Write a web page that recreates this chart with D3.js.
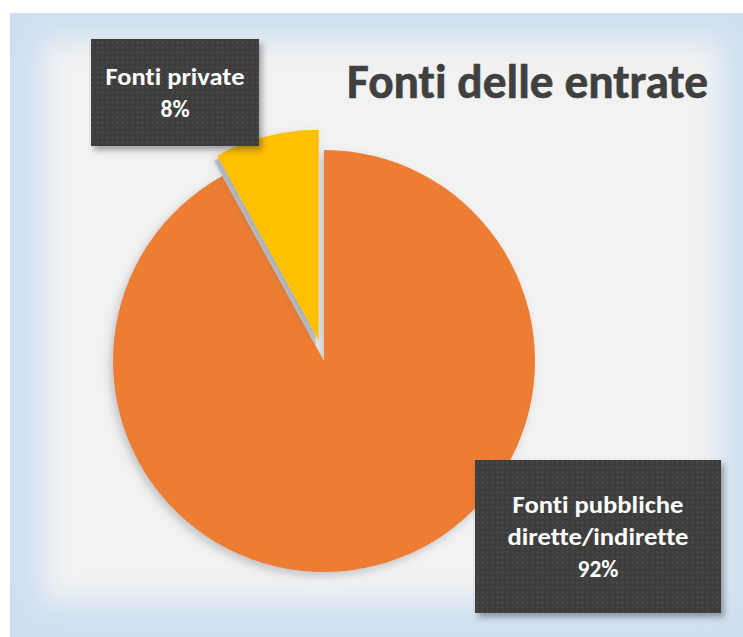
<!DOCTYPE html>
<html><head><meta charset="utf-8">
<script src="https://cdn.jsdelivr.net/npm/d3@7/dist/d3.min.js"></script>
<style>html,body{margin:0;padding:0;background:#fff;overflow:hidden} text{font-variant-ligatures:none;font-feature-settings:"liga" 0,"clig" 0;}</style>
</head><body>
<svg id="chart" width="743" height="637"></svg>
<script>
const categories = ["Fonti pubbliche dirette/indirette", "Fonti private"];
const values = [92, 8];
const labelLines = [["Fonti pubbliche", "dirette/indirette", "92%"], ["Fonti private", "8%"]];
const colors = ["#ED7D31", "#FFC000"];
const title = "Fonti delle entrate";

const svg = d3.select("#chart");
const defs = svg.append("defs");

// background glow
const bgBlur = defs.append("filter").attr("id","bgblur").attr("x","-20%").attr("y","-20%").attr("width","140%").attr("height","140%");
bgBlur.append("feGaussianBlur").attr("stdDeviation", 14);
const clip = defs.append("clipPath").attr("id","bgclip");
clip.append("rect").attr("x",10).attr("y",13).attr("width",760).attr("height",640);
const bg = svg.append("g").attr("clip-path","url(#bgclip)");
bg.append("rect").attr("x",10).attr("y",13).attr("width",760).attr("height",640).attr("fill","#cddff1");
bg.append("rect").attr("x",42).attr("y",40).attr("width",680).attr("height",562).attr("fill","#f2f2f2").attr("filter","url(#bgblur)");

// pattern for label boxes
const pat = defs.append("pattern").attr("id","dots").attr("patternUnits","userSpaceOnUse").attr("width",5).attr("height",5);
pat.append("rect").attr("width",5).attr("height",5).attr("fill","#3d3d3d");
pat.append("rect").attr("x",1.5).attr("y",1.5).attr("width",2).attr("height",2).attr("fill","#4d4d4d");

const shadow = defs.append("filter").attr("id","boxshadow").attr("x","-10%").attr("y","-10%").attr("width","130%").attr("height","130%");
shadow.append("feDropShadow").attr("dx",3).attr("dy",4).attr("stdDeviation",3).attr("flood-color","#000").attr("flood-opacity",0.35);

const pieShadow = defs.append("filter").attr("id","pieshadow").attr("x","-20%").attr("y","-20%").attr("width","140%").attr("height","140%");
pieShadow.append("feDropShadow").attr("dx",-3).attr("dy",4).attr("stdDeviation",4).attr("flood-color","#6a737c").attr("flood-opacity",0.35);

// pie
const cx = 324, cy = 361, R = 211, explode = 21;
const pie = d3.pie().sort(null).value(d => d)(values);
const arc = d3.arc().innerRadius(0).outerRadius(R);
const g = svg.append("g").attr("transform", `translate(${cx},${cy})`);

function offset(d, i) {
  if (i !== 1) return [0,0];
  const a = (d.startAngle + d.endAngle) / 2;
  return [Math.sin(a) * explode, -Math.cos(a) * explode];
}
// gray strip shadow for exploded slice
g.selectAll("path.sh").data(pie.filter((d,i)=>i===1)).join("path")
  .attr("class","sh")
  .attr("d", arc)
  .attr("fill", "#c6ccd1")
  .attr("transform", d => { const o = offset(d,1); return `translate(${o[0]-3},${o[1]+5})`; });

g.selectAll("path.slice").data(pie).join("path")
  .attr("class","slice")
  .attr("d", arc)
  .attr("fill", (d,i) => colors[i])
  .attr("filter","url(#pieshadow)")
  .attr("transform", (d,i) => { const o = offset(d,i); return `translate(${o[0]},${o[1]})`; });

// title
const t = svg.append("text").attr("x", 347).attr("y", 98)
  .attr("font-family","Carlito, Lato, 'Open Sans', sans-serif").attr("font-weight","bold")
  .attr("font-size", 48).attr("fill","#404040").attr("stroke","#404040").attr("stroke-width",0.6).text(title);
t.attr("textLength", 361).attr("lengthAdjust","spacingAndGlyphs");

// label boxes
const boxes = [
  {x:475, y:460, w:246, h:153, lines: labelLines[0], base:513, step:32, widths:[171,181,null]},
  {x:91, y:39, w:168, h:107, lines: labelLines[1], base:85, step:32, widths:[139,null]}
];
boxes.forEach(b => {
  svg.append("rect").attr("x",b.x).attr("y",b.y).attr("width",b.w).attr("height",b.h)
    .attr("fill","url(#dots)").attr("filter","url(#boxshadow)");
  b.lines.forEach((ln, j) => {
    const tx = svg.append("text").attr("x", b.x + b.w/2).attr("y", b.base + j*b.step)
      .attr("text-anchor","middle").attr("font-family","Carlito, Lato, 'Open Sans', sans-serif")
      .attr("font-weight","bold").attr("font-size",23.5).attr("fill","#ffffff").text(ln);
    if (b.widths[j]) tx.attr("textLength", b.widths[j]).attr("lengthAdjust","spacingAndGlyphs");
  });
});
</script>
</body></html>
